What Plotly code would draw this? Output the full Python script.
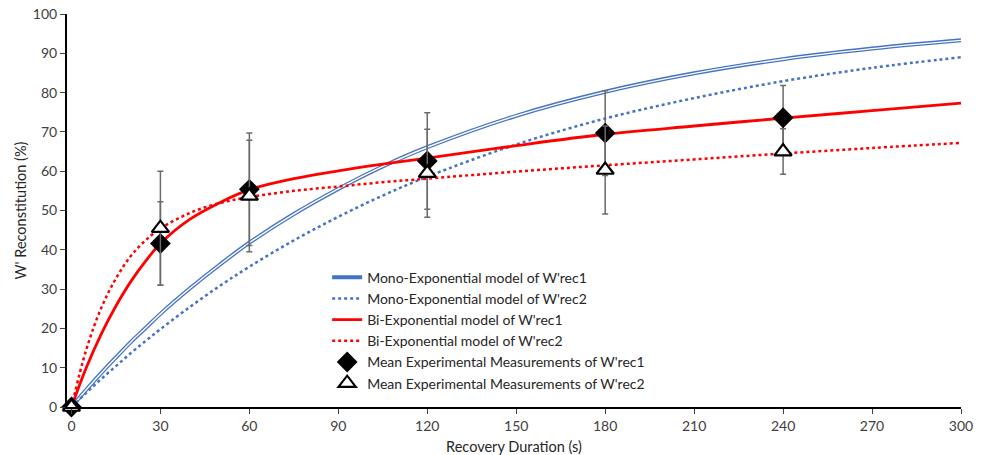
import plotly.graph_objects as go

# Recovery duration samples for model curves (s)
t_model = [0, 5, 10, 15, 20, 25, 30, 40, 50, 60, 75, 90, 105, 120, 150, 180, 210, 240, 270, 300]

mono_rec1 = [0, 4.4, 8.6, 12.6, 16.5, 20.1, 23.7, 30.2, 36.2, 41.8, 49.1, 55.5, 61.2, 66.1, 74.1, 80.2, 84.9, 88.5, 91.2, 93.3]
mono_rec2 = [0, 3.6, 7.1, 10.4, 13.7, 16.8, 19.8, 25.5, 30.8, 35.7, 42.4, 48.4, 53.8, 58.6, 66.8, 73.4, 78.6, 82.9, 86.3, 89.0]
bi_rec1 = [0, 10.0, 18.5, 25.7, 31.9, 37.1, 41.6, 47.8, 52.0, 55.3, 58.1, 60.1, 61.8, 63.3, 66.5, 69.4, 71.5, 73.5, 75.4, 77.3]
bi_rec2 = [0, 14.6, 25.1, 32.7, 38.4, 42.4, 45.4, 49.4, 51.9, 53.4, 55.0, 56.1, 57.2, 58.1, 59.9, 61.5, 63.0, 64.5, 65.9, 67.2]

# Experimental measurements
t_exp = [0, 30, 60, 120, 180, 240]
exp_rec1 = [0, 41.6, 55.4, 62.6, 69.7, 73.6]
err_rec1 = [0, 10.6, 14.3, 12.3, 10.8, 8.2]
exp_rec2 = [0, 45.5, 53.7, 59.5, 60.3, 65.0]
err_rec2 = [0, 14.5, 14.2, 11.2, 11.2, 5.8]

x_ticks = [0, 30, 60, 90, 120, 150, 180, 210, 240, 270, 300]
y_ticks = [0, 10, 20, 30, 40, 50, 60, 70, 80, 90, 100]

BLUE = "#4472C4"
RED = "#FF0000"
FONT = "Lato"

fig = go.Figure()

fig.add_trace(go.Scatter(x=t_model, y=mono_rec1, mode="lines", line=dict(color=BLUE, width=4, shape="spline"),
                         name="Mono-Exponential model of W'rec1"))
fig.add_trace(go.Scatter(x=t_model, y=mono_rec1, mode="lines", line=dict(color="white", width=1.4, shape="spline"),
                         showlegend=False, hoverinfo="skip"))
fig.add_trace(go.Scatter(x=t_model, y=mono_rec2, mode="lines", line=dict(color=BLUE, width=2.5, dash="dot", shape="spline"),
                         name="Mono-Exponential model of W'rec2"))
fig.add_trace(go.Scatter(x=t_model, y=bi_rec1, mode="lines", line=dict(color=RED, width=2.8, shape="spline"),
                         name="Bi-Exponential model of W'rec1"))
fig.add_trace(go.Scatter(x=t_model, y=bi_rec2, mode="lines", line=dict(color=RED, width=2.5, dash="dot", shape="spline"),
                         name="Bi-Exponential model of W'rec2"))
fig.add_trace(go.Scatter(x=t_exp, y=exp_rec1, mode="markers",
                         marker=dict(symbol="diamond", size=16, color="black", line=dict(width=0)),
                         error_y=dict(type="data", array=err_rec1, color="#6a6a6a", thickness=1.5, width=3),
                         name="Mean Experimental Measurements of W'rec1", cliponaxis=False))
fig.add_trace(go.Scatter(x=t_exp, y=exp_rec2, mode="markers",
                         marker=dict(symbol="triangle-up", size=15, color="white", line=dict(width=2.2, color="black")),
                         error_y=dict(type="data", array=err_rec2, color="#6a6a6a", thickness=1.5, width=3),
                         name="Mean Experimental Measurements of W'rec2", cliponaxis=False))

fig.update_layout(
    width=986, height=455,
    margin=dict(l=67, r=25, t=14, b=48, autoexpand=False),
    paper_bgcolor="white", plot_bgcolor="white",
    font=dict(family=FONT, size=14, color="#404040"),
    showlegend=True,
    legend=dict(x=0.291, y=0.37, xanchor="left", yanchor="top", bgcolor="rgba(0,0,0,0)",
                font=dict(family=FONT, size=14, color="#262626"), tracegroupgap=0),
    xaxis=dict(range=[-1.5, 300], tickvals=x_ticks, ticks="outside", ticklen=5, tickwidth=1, tickcolor="#404040",
               showline=True, linecolor="black", linewidth=2, showgrid=False, zeroline=False, automargin=False,
               title=dict(text="Recovery Duration (s)", standoff=10, font=dict(size=14.5, color="#262626"))),
    yaxis=dict(range=[0, 100], tickvals=y_ticks, ticks="outside", ticklen=5, tickwidth=1, tickcolor="#404040",
               showline=True, linecolor="black", linewidth=2, showgrid=False, zeroline=False, automargin=False,
               title=dict(text="W' Reconstitution (%)", standoff=3, font=dict(size=14.5, color="#262626"))),
)

fig.write_html("out.html")
